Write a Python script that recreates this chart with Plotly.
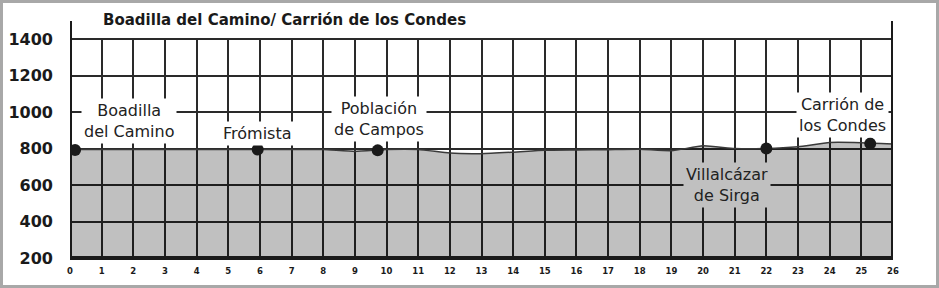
import plotly.graph_objects as go

# ---- data ----
profile_km = [0, 1, 2, 3, 4, 5, 6, 7, 8, 9, 10, 11, 12, 13, 14, 15, 16, 17, 18, 19, 20, 21, 22, 23, 24, 25, 26]
profile_elev = [795, 795, 795, 795, 795, 795, 795, 795, 795, 784, 795, 795, 775, 772, 780, 790, 792, 794, 796, 788, 815, 800, 800, 810, 833, 832, 825]

town_names = ["Boadilla<br>del Camino", "Frómista", "Población<br>de Campos", "Villalcázar<br>de Sirga", "Carrión de<br>los Condes"]
town_km = [0.16, 5.93, 9.72, 22.0, 25.28]
town_elev = [792, 795, 790, 800, 827]

x_ticks = list(range(0, 27))
y_ticks = [200, 400, 600, 800, 1000, 1200, 1400]
title_text = "Boadilla del Camino/ Carrión de los Condes"

# ---- label placement (layout) ----
label_x = [1.85, 5.92, 9.75, 20.74, 24.42]
label_y = [953, 882, 962, 600, 983]
label_bg = ["white", "white", "white", "#c0c0c0", "white"]

W, H = 939, 288
ML, MR, MT, MB = 70, 46, 38, 30
PW, PH = W - ML - MR, H - MT - MB
YMAX = 1406

fig = go.Figure()
fig.add_trace(go.Scatter(
    x=profile_km, y=profile_elev, mode="lines",
    line=dict(color="#3a3a3a", width=1.5, shape="spline", smoothing=0.5),
    fill="tozeroy", fillcolor="rgba(0,0,0,0.247)",
    hoverinfo="skip", showlegend=False))
fig.add_trace(go.Scatter(
    x=town_km, y=town_elev, mode="markers",
    marker=dict(color="#1a1a1a", size=12),
    hoverinfo="skip", showlegend=False))

for name, lx, ly, bg in zip(town_names, label_x, label_y, label_bg):
    fig.add_annotation(x=lx, y=ly, xref="x", yref="y", text=name, showarrow=False,
                       font=dict(family="DejaVu Sans", size=16, color="#222222"),
                       bgcolor=bg, borderpad=2, align="center")

fig.add_annotation(x=(101 - ML) / PW, y=1 + (MT - 20) / PH, xref="paper", yref="paper",
                   text=title_text, showarrow=False, xanchor="left", yanchor="middle",
                   font=dict(family="DejaVu Sans", size=15, color="#1a1a1a", weight="bold"))

top = 1 + (MT - 21) / PH
fig.add_shape(type="path", xref="x", yref="paper",
              path=f"M 0,{top} L 0,0 L 26,0 L 26,{top}",
              line=dict(color="#1a1a1a", width=4), layer="above")
# outer frame
fig.add_shape(type="rect", xref="paper", yref="paper",
              x0=(1.5 - ML) / PW, x1=(W - 1.5 - ML) / PW,
              y0=-(H - 1.5 - (MT + PH)) / PH, y1=1 + (MT - 1.5) / PH,
              line=dict(color="#a8a8a8", width=3), layer="above")

fig.update_xaxes(range=[0, 26], tickvals=x_ticks, ticktext=[str(v) for v in x_ticks],
                 showgrid=True, gridcolor="#2a2a2a", gridwidth=1.5, automargin=False,
                 zeroline=False, showline=False, ticks="",
                 tickfont=dict(family="DejaVu Sans", size=8.5, color="#1a1a1a", weight="bold"),
                 ticklabelstandoff=6)
fig.update_yaxes(range=[200, YMAX], tickvals=y_ticks, automargin=False,
                 showgrid=True, gridcolor="#2a2a2a", gridwidth=1.5,
                 zeroline=False, showline=False, ticks="",
                 tickfont=dict(family="DejaVu Sans", size=16, color="#1a1a1a", weight="bold"),
                 ticklabelstandoff=16)
fig.update_layout(width=W, height=H, margin=dict(l=ML, r=MR, t=MT, b=MB),
                  paper_bgcolor="white", plot_bgcolor="white")
fig.write_html("out.html")
